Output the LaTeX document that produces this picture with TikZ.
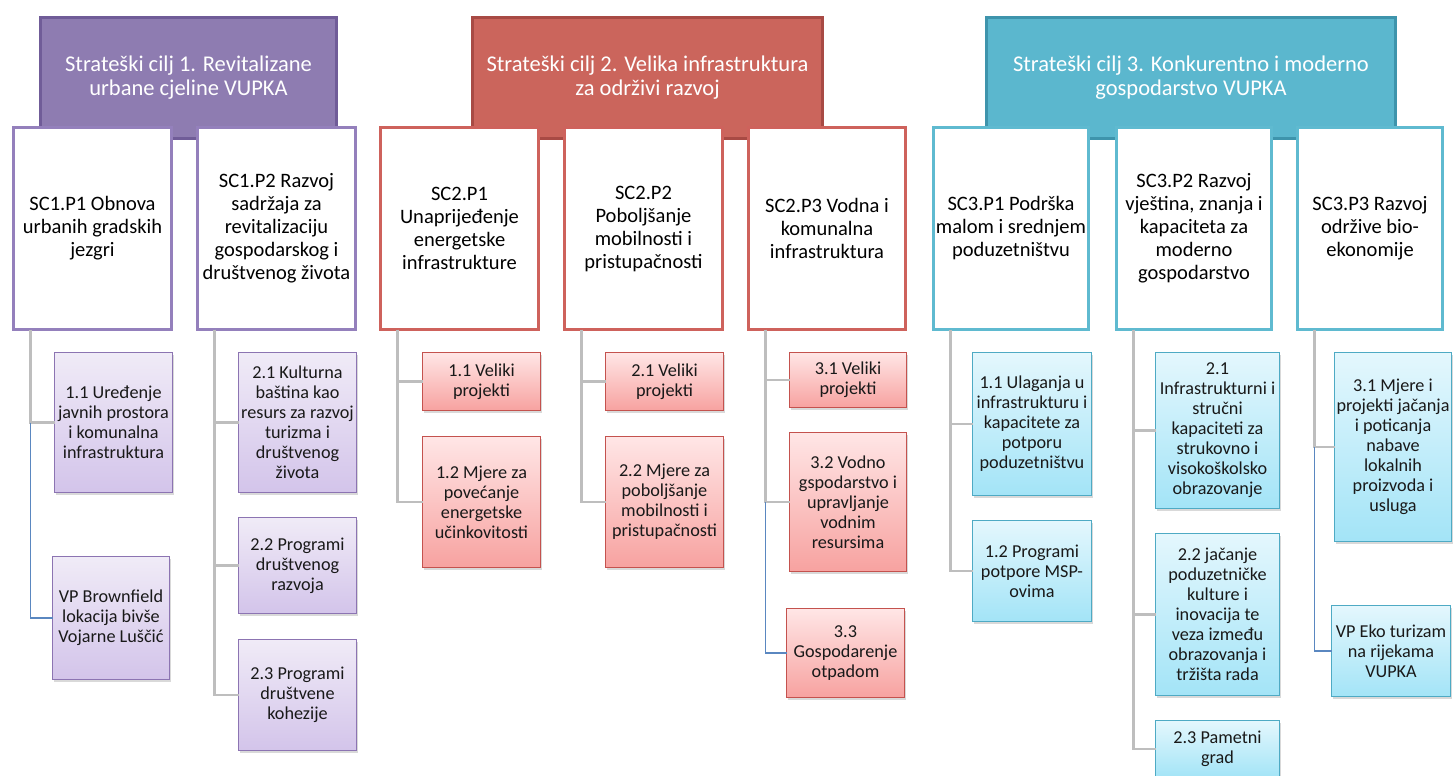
\documentclass[tikz,border=0pt]{standalone}
\usepackage{fontspec}
\setmainfont{Carlito}
\usetikzlibrary{calc}
\usetikzlibrary{shadows}

\definecolor{ljubC}{RGB}{142,124,177}
\definecolor{ljubR}{RGB}{112,92,152}
\definecolor{ljubP}{RGB}{148,128,188}
\definecolor{ljubG}{RGB}{240,235,247}
\definecolor{ljubD}{RGB}{211,196,234}
\definecolor{ljubM}{RGB}{140,116,178}
\definecolor{crvC}{RGB}{203,101,92}
\definecolor{crvR}{RGB}{168,74,68}
\definecolor{crvP}{RGB}{206,98,92}
\definecolor{crvG}{RGB}{255,230,230}
\definecolor{crvD}{RGB}{247,162,160}
\definecolor{crvM}{RGB}{196,82,78}
\definecolor{tirC}{RGB}{91,183,206}
\definecolor{tirR}{RGB}{62,148,172}
\definecolor{tirP}{RGB}{95,186,208}
\definecolor{tirG}{RGB}{228,247,253}
\definecolor{tirD}{RGB}{163,228,247}
\definecolor{tirM}{RGB}{78,170,196}
\definecolor{sivaV}{RGB}{190,190,190}
\definecolor{plavaV}{RGB}{90,135,192}

\tikzset{
  cilj/.style={draw, line width=3.5pt, minimum height=121pt, text=white,
    align=center, inner sep=0pt, outer sep=0pt,
    font=\fontsize{22.5}{24}\selectfont},
  prioritet/.style={draw, fill=white, line width=3pt, minimum height=202pt,
    align=center, inner sep=0pt, outer sep=0pt,
    font=\fontsize{20.5}{23}\selectfont},
  mjera/.style={draw, line width=1.2pt, align=center, inner sep=0pt,
    outer sep=0pt, text=black!90, font=\fontsize{18.2}{20}\selectfont,
    drop shadow={shadow xshift=1.5pt, shadow yshift=-2.5pt, opacity=0.3}},
  ljub/.style={mjera, draw=ljubM, top color=ljubG, bottom color=ljubD},
  crv/.style={mjera, draw=crvM, top color=crvG, bottom color=crvD},
  tir/.style={mjera, draw=tirM, top color=tirG, bottom color=tirD},
  veza/.style={draw=sivaV, line width=2.5pt},
  vezaP/.style={draw=plavaV, line width=1.6pt}
}

\begin{document}
\begin{tikzpicture}[x=1pt,y=-1pt]
\useasboundingbox (0,0) rectangle (1453,776);
% ciljevi
\node[cilj, fill=ljubC, draw=ljubR, minimum width=296pt] (h1) at (188.5,78)
  {Strateški cilj 1. Revitalizane\\urbane cjeline VUPKA};
\node[cilj, fill=crvC, draw=crvR, minimum width=350pt] (h2) at (647.5,78)
  {Strateški cilj 2. Velika infrastruktura\\za održivi razvoj};
\node[cilj, fill=tirC, draw=tirR, minimum width=409pt] (h3) at (1191,78)
  {Strateški cilj 3. Konkurentno i moderno\\gospodarstvo VUPKA};

% prioriteti
\node[prioritet, draw=ljubP, minimum width=158pt] (p11) at (92.5,228.5)
  {SC1.P1 Obnova\\urbanih gradskih\\jezgri};
\node[prioritet, draw=ljubP, minimum width=158pt] (p12) at (276.5,228.5)
  {SC1.P2 Razvoj\\sadržaja za\\revitalizaciju\\gospodarskog i\\društvenog života};
\node[prioritet, draw=crvP, minimum width=158pt] (p21) at (459.5,228.5)
  {SC2.P1\\Unaprijeđenje\\energetske\\infrastrukture};
\node[prioritet, draw=crvP, minimum width=158pt] (p22) at (643.5,228.5)
  {SC2.P2\\Poboljšanje\\mobilnosti i\\pristupačnosti};
\node[prioritet, draw=crvP, minimum width=157pt] (p23) at (827,228.5)
  {SC2.P3 Vodna i\\komunalna\\infrastruktura};
\node[prioritet, draw=tirP, minimum width=155pt] (p31) at (1011,228.5)
  {SC3.P1 Podrška\\malom i srednjem\\poduzetništvu};
\node[prioritet, draw=tirP, minimum width=155pt] (p32) at (1194,228.5)
  {SC3.P2 Razvoj\\vještina, znanja i\\kapaciteta za\\moderno\\gospodarstvo};
\node[prioritet, draw=tirP, minimum width=145pt] (p33) at (1370,228.5)
  {SC3.P3 Razvoj\\održive bio-\\ekonomije};

% mjere
\node[ljub, minimum width=118pt, minimum height=140pt] (a11) at (113.5,422.5)
  {1.1 Uređenje\\javnih prostora\\i komunalna\\infrastruktura};
\node[ljub, minimum width=117pt, minimum height=123pt] (a12) at (111,618)
  {VP Brownfield\\lokacija bivše\\Vojarne Luščić};
\node[ljub, minimum width=118pt, minimum height=140pt] (b21) at (297.5,422.5)
  {2.1 Kulturna\\baština kao\\resurs za razvoj\\turizma i\\društvenog\\života};
\node[ljub, minimum width=118pt, minimum height=96pt] (b22) at (297.5,565.5)
  {2.2 Programi\\društvenog\\razvoja};
\node[ljub, minimum width=118pt, minimum height=111pt] (b23) at (297.5,695)
  {2.3 Programi\\društvene\\kohezije};
\node[crv, minimum width=118pt, minimum height=58pt] (c11) at (481.5,381.5)
  {1.1 Veliki\\projekti};
\node[crv, minimum width=118pt, minimum height=131pt] (c12) at (481.5,502)
  {1.2 Mjere za\\povećanje\\energetske\\učinkovitosti};
\node[crv, minimum width=118pt, minimum height=58pt] (c21) at (664.5,381.5)
  {2.1 Veliki\\projekti};
\node[crv, minimum width=118pt, minimum height=131pt] (c22) at (664.5,502)
  {2.2 Mjere za\\poboljšanje\\mobilnosti i\\pristupačnosti};
\node[crv, minimum width=117pt, minimum height=55pt] (c31) at (848,380)
  {3.1 Veliki\\projekti};
\node[crv, minimum width=117pt, minimum height=139pt] (c32) at (848,502)
  {3.2 Vodno\\gspodarstvo i\\upravljanje\\vodnim\\resursima};
\node[crv, minimum width=118pt, minimum height=89pt] (c33) at (845.5,653)
  {3.3\\Gospodarenje\\otpadom};
\node[tir, minimum width=119pt, minimum height=143pt] (d11) at (1032,424)
  {1.1 Ulaganja u\\infrastrukturu i\\kapacitete za\\potporu\\poduzetništvu};
\node[tir, minimum width=119pt, minimum height=101pt] (d12) at (1032,571)
  {1.2 Programi\\potpore MSP-\\ovima};
\node[tir, minimum width=124pt, minimum height=156pt] (d21) at (1217.5,430.5)
  {2.1\\Infrastrukturni i\\stručni\\kapaciteti za\\strukovno i\\visokoškolsko\\obrazovanje};
\node[tir, minimum width=124pt, minimum height=162pt] (d22) at (1217.5,614.5)
  {2.2 jačanje\\poduzetničke\\kulture i\\inovacija te\\veza između\\obrazovanja i\\tržišta rada};
\node[tir, minimum width=124pt, minimum height=57pt] (d23) at (1217.5,749)
  {2.3 Pametni\\grad};
\node[tir, minimum width=117pt, minimum height=189pt] (d31) at (1393,447)
  {3.1 Mjere i\\projekti jačanja\\i poticanja\\nabave\\lokalnih\\proizvoda i\\usluga};
\node[tir, minimum width=119pt, minimum height=91pt] (d32) at (1391,651)
  {VP Eko turizam\\na rijekama\\VUPKA};

% veze
\foreach \p/\m in {p11/a11, p12/b21, p12/b22, p12/b23, p21/c11, p21/c12,
    p22/c21, p22/c22, p23/c31, p23/c32, p31/d11, p31/d12,
    p32/d21, p32/d22, p32/d23, p33/d31}
  \draw[veza] (\p.south west) ++(17,0) |- (\m.west);
\foreach \p/\a/\m in {p11/a11/a12, p23/c32/c33, p33/d31/d32}
  {
  \coordinate (s\m) at ($(\p.south west)+(17,0)$);
  \draw[vezaP] (s\m |- \a.west) |- (\m.west);
  }
\end{tikzpicture}
\end{document}
